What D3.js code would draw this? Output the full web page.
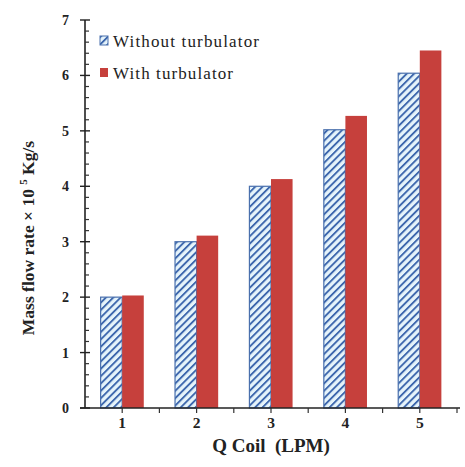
<!DOCTYPE html>
<html>
<head>
<meta charset="utf-8">
<script src="https://cdn.jsdelivr.net/npm/d3@7"></script>
<style>
  html, body { margin: 0; padding: 0; background: #fff; }
  svg { display: block; }
</style>
</head>
<body>
<div id="chart"></div>
<script>
// Mass flow rate vs coil flow rate, with and without turbulator
const categories = ["1", "2", "3", "4", "5"];
const seriesNames = ["Without turbulator", "With turbulator"];
const withoutTurbulator = [2.0, 3.0, 4.0, 5.02, 6.04];
const withTurbulator = [2.03, 3.11, 4.13, 5.27, 6.45];
const yTicks = [0, 1, 2, 3, 4, 5, 6, 7];

const W = 465, H = 467;
const plotLeft = 85, plotRight = 457, plotTop = 20, plotBottom = 408;

const svg = d3.select("#chart").append("svg")
  .attr("width", W).attr("height", H);

const defs = svg.append("defs");
const pat = defs.append("pattern")
  .attr("id", "hatch")
  .attr("patternUnits", "userSpaceOnUse")
  .attr("width", 5.2).attr("height", 5.2)
  .attr("patternTransform", "rotate(45)");
pat.append("rect").attr("width", 5.2).attr("height", 5.2).attr("fill", "#e6f4fb");
pat.append("rect").attr("x", 0).attr("width", 1.9).attr("height", 5.2).attr("fill", "#3d67ad");

const x0 = d3.scaleBand().domain(categories).range([plotLeft, plotRight])
  .paddingInner(0.42).paddingOuter(0.21);
const x1 = d3.scaleBand().domain(seriesNames).range([0, x0.bandwidth()]);
const y = d3.scaleLinear().domain([0, 7]).range([plotBottom, plotTop]);

const rows = categories.map((c, i) => ({
  cat: c,
  vals: [
    { s: seriesNames[0], v: withoutTurbulator[i] },
    { s: seriesNames[1], v: withTurbulator[i] }
  ]
}));

const g = svg.append("g");
const grp = g.selectAll("g.grp").data(rows).join("g")
  .attr("class", "grp")
  .attr("transform", d => `translate(${x0(d.cat)},0)`);

grp.selectAll("rect").data(d => d.vals).join("rect")
  .attr("x", d => x1(d.s))
  .attr("y", d => y(d.v))
  .attr("width", x1.bandwidth())
  .attr("height", d => y(0) - y(d.v))
  .attr("fill", d => d.s === seriesNames[0] ? "url(#hatch)" : "#c6403c")
  .attr("stroke", d => d.s === seriesNames[0] ? "#4a70ad" : "none")
  .attr("stroke-width", 1.2);

const serif = "'Liberation Serif', 'Times New Roman', serif";

// Y axis with major ticks crossing and minor ticks inside
const yAxis = g.append("g").attr("transform", `translate(${plotLeft},0)`);
yAxis.append("line").attr("y1", y(7)).attr("y2", y(0)).attr("stroke", "#222").attr("stroke-width", 1.6);
const minor = d3.range(0, 35).map(i => i * 0.2).filter(v => Math.abs(v - Math.round(v)) > 1e-6);
yAxis.selectAll("line.minor").data(minor).join("line")
  .attr("class", "minor")
  .attr("x1", 0).attr("x2", 4)
  .attr("y1", d => y(d)).attr("y2", d => y(d))
  .attr("stroke", "#333").attr("stroke-width", 1.2);
yAxis.selectAll("line.major").data(yTicks).join("line")
  .attr("class", "major")
  .attr("x1", -5).attr("x2", 5)
  .attr("y1", d => y(d)).attr("y2", d => y(d))
  .attr("stroke", "#222").attr("stroke-width", 1.4);
yAxis.selectAll("text").data(yTicks).join("text")
  .attr("x", -16).attr("y", d => y(d) + 5)
  .attr("text-anchor", "end")
  .attr("font-family", serif).attr("font-weight", "bold").attr("font-size", 14)
  .attr("fill", "#222")
  .text(d => d);

// X axis
const xAxis = g.append("g");
xAxis.append("line").attr("x1", plotLeft - 5).attr("x2", plotRight + 3)
  .attr("y1", plotBottom).attr("y2", plotBottom).attr("stroke", "#222").attr("stroke-width", 1.6);
const step = x0.step();
const bounds = d3.range(1, categories.length + 1).map(i => plotLeft + i * step);
xAxis.selectAll("line.bt").data(bounds).join("line")
  .attr("class", "bt")
  .attr("x1", d => d).attr("x2", d => d)
  .attr("y1", plotBottom).attr("y2", plotBottom + 5)
  .attr("stroke", "#333").attr("stroke-width", 1.2);
xAxis.selectAll("line.ct").data(categories).join("line")
  .attr("class", "ct")
  .attr("x1", d => x0(d) + x0.bandwidth() / 2).attr("x2", d => x0(d) + x0.bandwidth() / 2)
  .attr("y1", plotBottom).attr("y2", plotBottom + 5)
  .attr("stroke", "#333").attr("stroke-width", 1.2);
xAxis.selectAll("text").data(categories).join("text")
  .attr("x", d => x0(d) + x0.bandwidth() / 2).attr("y", 428)
  .attr("text-anchor", "middle")
  .attr("font-family", serif).attr("font-weight", "bold").attr("font-size", 15.5)
  .attr("fill", "#222")
  .text(d => d);

// Axis titles
svg.append("text")
  .attr("x", 271).attr("y", 452)
  .attr("text-anchor", "middle")
  .attr("font-family", serif).attr("font-weight", "bold").attr("font-size", 19)
  .attr("fill", "#222")
  .style("white-space", "pre")
  .text("Q Coil  (LPM)");

const yt = svg.append("text")
  .attr("transform", "translate(34,238) rotate(-90)")
  .attr("text-anchor", "middle")
  .attr("font-family", serif).attr("font-weight", "bold").attr("font-size", 17.5)
  .attr("fill", "#222");
yt.append("tspan").text("Mass flow rate × 10 ");
yt.append("tspan").attr("dy", -7).attr("font-size", 11).text("5");
yt.append("tspan").attr("dy", 7).text(" Kg/s");

// Legend
const legend = svg.append("g");
const legendWidths = [146, 120];
const lg = legend.selectAll("g").data(seriesNames).join("g")
  .attr("transform", (d, i) => `translate(100,${36 + i * 32})`);
lg.append("rect")
  .attr("width", 8).attr("height", 9)
  .attr("fill", (d, i) => i === 0 ? "url(#hatch)" : "#c6403c")
  .attr("stroke", (d, i) => i === 0 ? "#4a70ad" : "none");
lg.append("text")
  .attr("x", 13).attr("y", 11)
  .attr("font-family", serif).attr("font-size", 17)
  .attr("fill", "#222")
  .attr("textLength", (d, i) => legendWidths[i])
  .attr("lengthAdjust", "spacing")
  .text(d => d);
</script>
</body>
</html>
